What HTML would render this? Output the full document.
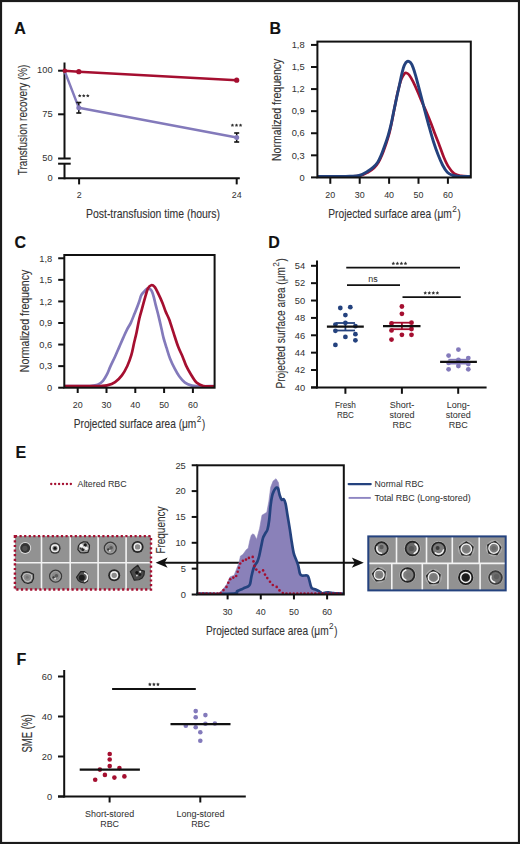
<!DOCTYPE html>
<html><head><meta charset="utf-8"><style>
html,body{margin:0;padding:0;background:#fff;width:520px;height:844px;overflow:hidden}
svg{display:block}
text{font-family:"Liberation Sans",sans-serif}
</style></head><body>
<svg width="520" height="844" viewBox="0 0 520 844">
<rect width="520" height="844" fill="#fff"/>
<rect x="1" y="1" width="518" height="842" fill="none" stroke="#1b1b1b" stroke-width="2.2"/>
<text x="14.20" y="34.40" font-size="16.0" text-anchor="start" fill="#111" font-weight="bold"  stroke="#111" stroke-width="0.15">A</text>
<text x="269.60" y="34.30" font-size="16.0" text-anchor="start" fill="#111" font-weight="bold"  stroke="#111" stroke-width="0.15">B</text>
<text x="14.60" y="248.00" font-size="16.0" text-anchor="start" fill="#111" font-weight="bold"  stroke="#111" stroke-width="0.15">C</text>
<text x="268.20" y="247.80" font-size="16.0" text-anchor="start" fill="#111" font-weight="bold"  stroke="#111" stroke-width="0.15">D</text>
<text x="15.60" y="457.90" font-size="16.0" text-anchor="start" fill="#111" font-weight="bold"  stroke="#111" stroke-width="0.15">E</text>
<text x="16.40" y="665.00" font-size="16.0" text-anchor="start" fill="#111" font-weight="bold"  stroke="#111" stroke-width="0.15">F</text>
<line x1="64.50" y1="62.50" x2="64.50" y2="158.50" stroke="#111111" stroke-width="2" />
<line x1="64.50" y1="163.70" x2="64.50" y2="179.30" stroke="#111111" stroke-width="2" />
<line x1="58.10" y1="158.50" x2="70.70" y2="158.50" stroke="#111111" stroke-width="2" />
<line x1="58.10" y1="163.70" x2="70.70" y2="163.70" stroke="#111111" stroke-width="2" />
<line x1="58.10" y1="70.70" x2="64.50" y2="70.70" stroke="#111111" stroke-width="2" />
<line x1="58.10" y1="114.30" x2="64.50" y2="114.30" stroke="#111111" stroke-width="2" />
<line x1="58.10" y1="178.30" x2="239.80" y2="178.30" stroke="#111111" stroke-width="2" />
<line x1="79.10" y1="178.30" x2="79.10" y2="184.40" stroke="#111111" stroke-width="2" />
<line x1="236.70" y1="178.30" x2="236.70" y2="184.40" stroke="#111111" stroke-width="2" />
<text x="52.60" y="73.40" font-size="9.3" text-anchor="end" fill="#333333" font-weight="normal"  stroke="#333333" stroke-width="0.04">100</text>
<text x="52.60" y="117.10" font-size="9.3" text-anchor="end" fill="#333333" font-weight="normal"  stroke="#333333" stroke-width="0.04">75</text>
<text x="52.60" y="161.40" font-size="9.3" text-anchor="end" fill="#333333" font-weight="normal"  stroke="#333333" stroke-width="0.04">50</text>
<text x="52.60" y="181.00" font-size="9.3" text-anchor="end" fill="#333333" font-weight="normal"  stroke="#333333" stroke-width="0.04">0</text>
<text x="79.10" y="198.30" font-size="8.9" text-anchor="middle" fill="#333333" font-weight="normal"  stroke="#333333" stroke-width="0.04">2</text>
<text x="236.70" y="198.30" font-size="8.9" text-anchor="middle" fill="#333333" font-weight="normal"  stroke="#333333" stroke-width="0.04">24</text>
<text x="86.00" y="217.60" font-size="12.8" text-anchor="start" fill="#333333" font-weight="normal" textLength="134.00" lengthAdjust="spacingAndGlyphs"  stroke="#333333" stroke-width="0.12">Post-transfusion time (hours)</text>
<text x="27.20" y="175.20" font-size="12.8" text-anchor="start" fill="#333333" font-weight="normal" textLength="110.60" lengthAdjust="spacingAndGlyphs" transform="rotate(-90 27.20 175.20)"  stroke="#333333" stroke-width="0.12">Transfusion recovery (%)</text>
<path d="M64.50,70.80 L78.80,107.80 L236.70,137.50" fill="none" stroke="#837abb" stroke-width="2.4" stroke-linejoin="round" stroke-linecap="round" />
<line x1="78.80" y1="102.50" x2="78.80" y2="113.00" stroke="#111111" stroke-width="1.5" />
<line x1="76.30" y1="102.50" x2="81.30" y2="102.50" stroke="#111111" stroke-width="1.6" />
<line x1="76.30" y1="113.00" x2="81.30" y2="113.00" stroke="#111111" stroke-width="1.6" />
<line x1="236.70" y1="133.00" x2="236.70" y2="142.00" stroke="#111111" stroke-width="1.5" />
<line x1="234.20" y1="133.00" x2="239.20" y2="133.00" stroke="#111111" stroke-width="1.6" />
<line x1="234.20" y1="142.00" x2="239.20" y2="142.00" stroke="#111111" stroke-width="1.6" />
<circle cx="78.80" cy="107.80" r="2.5" fill="#837abb"/>
<circle cx="236.70" cy="137.50" r="2.5" fill="#837abb"/>
<path d="M64.50,70.80 L78.80,71.70 L236.70,80.20" fill="none" stroke="#a50f30" stroke-width="2.6" stroke-linejoin="round" stroke-linecap="round" />
<circle cx="64.80" cy="70.80" r="2.3" fill="#a50f30"/>
<circle cx="78.80" cy="71.70" r="2.6" fill="#a50f30"/>
<circle cx="236.70" cy="80.20" r="2.6" fill="#a50f30"/>
<polygon points="79.70,93.90 80.29,94.99 81.51,95.21 80.65,96.11 80.82,97.34 79.70,96.80 78.58,97.34 78.75,96.11 77.89,95.21 79.11,94.99" fill="#333333"/>
<polygon points="83.75,93.90 84.34,94.99 85.56,95.21 84.70,96.11 84.87,97.34 83.75,96.80 82.63,97.34 82.80,96.11 81.94,95.21 83.16,94.99" fill="#333333"/>
<polygon points="87.80,93.90 88.39,94.99 89.61,95.21 88.75,96.11 88.92,97.34 87.80,96.80 86.68,97.34 86.85,96.11 85.99,95.21 87.21,94.99" fill="#333333"/>
<polygon points="232.45,123.40 233.04,124.49 234.26,124.71 233.40,125.61 233.57,126.84 232.45,126.30 231.33,126.84 231.50,125.61 230.64,124.71 231.86,124.49" fill="#333333"/>
<polygon points="236.50,123.40 237.09,124.49 238.31,124.71 237.45,125.61 237.62,126.84 236.50,126.30 235.38,126.84 235.55,125.61 234.69,124.71 235.91,124.49" fill="#333333"/>
<polygon points="240.55,123.40 241.14,124.49 242.36,124.71 241.50,125.61 241.67,126.84 240.55,126.30 239.43,126.84 239.60,125.61 238.74,124.71 239.96,124.49" fill="#333333"/>
<line x1="311.00" y1="177.40" x2="317.40" y2="177.40" stroke="#111111" stroke-width="2" />
<text x="304.60" y="180.65" font-size="9.3" text-anchor="end" fill="#333333" font-weight="normal"  stroke="#333333" stroke-width="0.04">0</text>
<line x1="311.00" y1="155.32" x2="317.40" y2="155.32" stroke="#111111" stroke-width="2" />
<text x="304.60" y="158.57" font-size="9.3" text-anchor="end" fill="#333333" font-weight="normal"  stroke="#333333" stroke-width="0.04">0,3</text>
<line x1="311.00" y1="133.24" x2="317.40" y2="133.24" stroke="#111111" stroke-width="2" />
<text x="304.60" y="136.49" font-size="9.3" text-anchor="end" fill="#333333" font-weight="normal"  stroke="#333333" stroke-width="0.04">0,6</text>
<line x1="311.00" y1="111.16" x2="317.40" y2="111.16" stroke="#111111" stroke-width="2" />
<text x="304.60" y="114.41" font-size="9.3" text-anchor="end" fill="#333333" font-weight="normal"  stroke="#333333" stroke-width="0.04">0,9</text>
<line x1="311.00" y1="89.08" x2="317.40" y2="89.08" stroke="#111111" stroke-width="2" />
<text x="304.60" y="92.33" font-size="9.3" text-anchor="end" fill="#333333" font-weight="normal"  stroke="#333333" stroke-width="0.04">1,2</text>
<line x1="311.00" y1="67.00" x2="317.40" y2="67.00" stroke="#111111" stroke-width="2" />
<text x="304.60" y="70.25" font-size="9.3" text-anchor="end" fill="#333333" font-weight="normal"  stroke="#333333" stroke-width="0.04">1,5</text>
<line x1="311.00" y1="44.92" x2="317.40" y2="44.92" stroke="#111111" stroke-width="2" />
<text x="304.60" y="48.17" font-size="9.3" text-anchor="end" fill="#333333" font-weight="normal"  stroke="#333333" stroke-width="0.04">1,8</text>
<line x1="330.30" y1="177.50" x2="330.30" y2="183.80" stroke="#111111" stroke-width="2" />
<text x="330.30" y="198.30" font-size="8.9" text-anchor="middle" fill="#333333" font-weight="normal"  stroke="#333333" stroke-width="0.04">20</text>
<line x1="359.70" y1="177.50" x2="359.70" y2="183.80" stroke="#111111" stroke-width="2" />
<text x="359.70" y="198.30" font-size="8.9" text-anchor="middle" fill="#333333" font-weight="normal"  stroke="#333333" stroke-width="0.04">30</text>
<line x1="389.10" y1="177.50" x2="389.10" y2="183.80" stroke="#111111" stroke-width="2" />
<text x="389.10" y="198.30" font-size="8.9" text-anchor="middle" fill="#333333" font-weight="normal"  stroke="#333333" stroke-width="0.04">40</text>
<line x1="418.50" y1="177.50" x2="418.50" y2="183.80" stroke="#111111" stroke-width="2" />
<text x="418.50" y="198.30" font-size="8.9" text-anchor="middle" fill="#333333" font-weight="normal"  stroke="#333333" stroke-width="0.04">50</text>
<line x1="447.90" y1="177.50" x2="447.90" y2="183.80" stroke="#111111" stroke-width="2" />
<text x="447.90" y="198.30" font-size="8.9" text-anchor="middle" fill="#333333" font-weight="normal"  stroke="#333333" stroke-width="0.04">60</text>
<clipPath id="cb"><rect x="317.4" y="41.6" width="153.40000000000003" height="135.9"/></clipPath>
<path d="M317.40,176.40 C321.17,176.40 334.57,176.42 340.00,176.40 C345.43,176.38 346.67,176.40 350.00,176.30 C353.33,176.20 357.00,176.48 360.00,175.80 C363.00,175.12 365.67,173.50 368.00,172.20 C370.33,170.90 372.25,169.67 374.00,168.00 C375.75,166.33 377.17,164.37 378.50,162.20 C379.83,160.03 380.83,157.78 382.00,155.00 C383.17,152.22 384.33,148.92 385.50,145.50 C386.67,142.08 387.92,138.58 389.00,134.50 C390.08,130.42 391.03,125.67 392.00,121.00 C392.97,116.33 393.85,111.28 394.80,106.50 C395.75,101.72 396.63,96.78 397.70,92.30 C398.77,87.82 400.07,82.72 401.20,79.60 C402.33,76.48 403.62,74.70 404.50,73.60 C405.38,72.50 405.72,72.77 406.50,73.00 C407.28,73.23 408.10,73.55 409.20,75.00 C410.30,76.45 411.65,78.82 413.10,81.70 C414.55,84.58 416.37,88.78 417.90,92.30 C419.43,95.82 420.87,99.48 422.30,102.80 C423.73,106.12 425.03,108.77 426.50,112.20 C427.97,115.63 429.65,119.67 431.10,123.40 C432.55,127.13 433.75,130.77 435.20,134.60 C436.65,138.43 438.37,142.63 439.80,146.40 C441.23,150.17 442.37,153.83 443.80,157.20 C445.23,160.57 446.67,163.87 448.40,166.60 C450.13,169.33 452.08,172.05 454.20,173.60 C456.32,175.15 458.60,175.43 461.10,175.90 C463.60,176.37 467.85,176.32 469.20,176.40" fill="none" stroke="#a50f30" stroke-width="2.7" stroke-linejoin="round" stroke-linecap="round" clip-path="url(#cb)"/>
<path d="M317.40,176.40 C321.17,176.40 334.57,176.43 340.00,176.40 C345.43,176.37 346.80,176.35 350.00,176.20 C353.20,176.05 356.32,176.27 359.20,175.50 C362.08,174.73 364.98,172.95 367.30,171.60 C369.62,170.25 371.37,168.97 373.10,167.40 C374.83,165.83 376.37,164.20 377.70,162.20 C379.03,160.20 379.95,158.08 381.10,155.40 C382.25,152.72 383.43,149.40 384.60,146.10 C385.77,142.80 387.03,139.18 388.10,135.60 C389.17,132.02 390.10,128.45 391.00,124.60 C391.90,120.75 392.55,117.02 393.50,112.50 C394.45,107.98 395.68,102.22 396.70,97.50 C397.72,92.78 398.72,88.25 399.60,84.20 C400.48,80.15 401.20,76.37 402.00,73.20 C402.80,70.03 403.52,67.17 404.40,65.20 C405.28,63.23 406.28,61.83 407.30,61.40 C408.32,60.97 409.53,61.57 410.50,62.60 C411.47,63.63 412.27,65.50 413.10,67.60 C413.93,69.70 414.65,72.27 415.50,75.20 C416.35,78.13 417.25,81.65 418.20,85.20 C419.15,88.75 420.13,92.40 421.20,96.50 C422.27,100.60 423.33,104.97 424.60,109.80 C425.87,114.63 427.32,120.17 428.80,125.50 C430.28,130.83 431.95,136.92 433.50,141.80 C435.05,146.68 436.57,150.90 438.10,154.80 C439.63,158.70 441.17,162.30 442.70,165.20 C444.23,168.10 445.57,170.48 447.30,172.20 C449.03,173.92 450.80,174.80 453.10,175.50 C455.40,176.20 458.28,176.25 461.10,176.40 C463.92,176.55 468.52,176.40 470.00,176.40" fill="none" stroke="#24427e" stroke-width="2.9" stroke-linejoin="round" stroke-linecap="round" clip-path="url(#cb)"/>
<rect x="317.4" y="41.6" width="153.40000000000003" height="135.9" fill="none" stroke="#111111" stroke-width="2"/>
<text x="281.10" y="161.00" font-size="12.8" text-anchor="start" fill="#333333" font-weight="normal" textLength="102.30" lengthAdjust="spacingAndGlyphs" transform="rotate(-90 281.10 161.00)"  stroke="#333333" stroke-width="0.12">Normalized frequency</text>
<text x="328.30" y="218.00" font-size="13.3" text-anchor="start" fill="#333333" font-weight="normal" textLength="123.50" lengthAdjust="spacingAndGlyphs"  stroke="#333333" stroke-width="0.12">Projected surface area (μm</text>
<text x="452.30" y="211.80" font-size="8.2" text-anchor="start" fill="#333333" font-weight="normal"  stroke="#333333" stroke-width="0.04">2</text>
<text x="457.40" y="218.00" font-size="13.3" text-anchor="start" fill="#333333" font-weight="normal" textLength="3.20" lengthAdjust="spacingAndGlyphs"  stroke="#333333" stroke-width="0.12">)</text>
<line x1="58.20" y1="387.70" x2="64.30" y2="387.70" stroke="#111111" stroke-width="2" />
<text x="52.20" y="390.95" font-size="9.3" text-anchor="end" fill="#333333" font-weight="normal"  stroke="#333333" stroke-width="0.04">0</text>
<line x1="58.20" y1="366.13" x2="64.30" y2="366.13" stroke="#111111" stroke-width="2" />
<text x="52.20" y="369.38" font-size="9.3" text-anchor="end" fill="#333333" font-weight="normal"  stroke="#333333" stroke-width="0.04">0,3</text>
<line x1="58.20" y1="344.56" x2="64.30" y2="344.56" stroke="#111111" stroke-width="2" />
<text x="52.20" y="347.81" font-size="9.3" text-anchor="end" fill="#333333" font-weight="normal"  stroke="#333333" stroke-width="0.04">0,6</text>
<line x1="58.20" y1="322.99" x2="64.30" y2="322.99" stroke="#111111" stroke-width="2" />
<text x="52.20" y="326.24" font-size="9.3" text-anchor="end" fill="#333333" font-weight="normal"  stroke="#333333" stroke-width="0.04">0,9</text>
<line x1="58.20" y1="301.42" x2="64.30" y2="301.42" stroke="#111111" stroke-width="2" />
<text x="52.20" y="304.67" font-size="9.3" text-anchor="end" fill="#333333" font-weight="normal"  stroke="#333333" stroke-width="0.04">1,2</text>
<line x1="58.20" y1="279.85" x2="64.30" y2="279.85" stroke="#111111" stroke-width="2" />
<text x="52.20" y="283.10" font-size="9.3" text-anchor="end" fill="#333333" font-weight="normal"  stroke="#333333" stroke-width="0.04">1,5</text>
<line x1="58.20" y1="258.28" x2="64.30" y2="258.28" stroke="#111111" stroke-width="2" />
<text x="52.20" y="261.53" font-size="9.3" text-anchor="end" fill="#333333" font-weight="normal"  stroke="#333333" stroke-width="0.04">1,8</text>
<line x1="77.70" y1="387.70" x2="77.70" y2="393.00" stroke="#111111" stroke-width="2" />
<text x="77.70" y="408.40" font-size="8.9" text-anchor="middle" fill="#333333" font-weight="normal"  stroke="#333333" stroke-width="0.04">20</text>
<line x1="106.50" y1="387.70" x2="106.50" y2="393.00" stroke="#111111" stroke-width="2" />
<text x="106.50" y="408.40" font-size="8.9" text-anchor="middle" fill="#333333" font-weight="normal"  stroke="#333333" stroke-width="0.04">30</text>
<line x1="135.30" y1="387.70" x2="135.30" y2="393.00" stroke="#111111" stroke-width="2" />
<text x="135.30" y="408.40" font-size="8.9" text-anchor="middle" fill="#333333" font-weight="normal"  stroke="#333333" stroke-width="0.04">40</text>
<line x1="164.10" y1="387.70" x2="164.10" y2="393.00" stroke="#111111" stroke-width="2" />
<text x="164.10" y="408.40" font-size="8.9" text-anchor="middle" fill="#333333" font-weight="normal"  stroke="#333333" stroke-width="0.04">50</text>
<line x1="192.90" y1="387.70" x2="192.90" y2="393.00" stroke="#111111" stroke-width="2" />
<text x="192.90" y="408.40" font-size="8.9" text-anchor="middle" fill="#333333" font-weight="normal"  stroke="#333333" stroke-width="0.04">60</text>
<clipPath id="cc"><rect x="64.3" y="255.0" width="150.3" height="132.7"/></clipPath>
<path d="M64.30,386.20 C67.75,386.20 80.72,386.23 85.00,386.20 C89.28,386.17 87.90,386.23 90.00,386.00 C92.10,385.77 95.43,385.67 97.60,384.80 C99.77,383.93 101.42,382.57 103.00,380.80 C104.58,379.03 105.87,376.60 107.10,374.20 C108.33,371.80 109.07,369.35 110.40,366.40 C111.73,363.45 113.63,359.72 115.10,356.50 C116.57,353.28 117.85,350.20 119.20,347.10 C120.55,344.00 121.90,340.82 123.20,337.90 C124.50,334.98 125.73,332.12 127.00,329.60 C128.27,327.08 129.53,325.48 130.80,322.80 C132.07,320.12 133.50,316.22 134.60,313.50 C135.70,310.78 136.60,308.58 137.40,306.50 C138.20,304.42 138.77,302.85 139.40,301.00 C140.03,299.15 140.40,296.97 141.20,295.40 C142.00,293.83 143.22,292.70 144.20,291.60 C145.18,290.50 146.20,289.28 147.10,288.80 C148.00,288.32 148.82,288.30 149.60,288.70 C150.38,289.10 151.10,289.80 151.80,291.20 C152.50,292.60 153.13,294.73 153.80,297.10 C154.47,299.47 154.98,302.15 155.80,305.40 C156.62,308.65 157.75,312.70 158.70,316.60 C159.65,320.50 160.72,325.33 161.50,328.80 C162.28,332.27 162.57,334.25 163.40,337.40 C164.23,340.55 165.40,344.20 166.50,347.70 C167.60,351.20 168.65,354.95 170.00,358.40 C171.35,361.85 173.07,365.43 174.60,368.40 C176.13,371.37 177.47,373.83 179.20,376.20 C180.93,378.57 182.88,381.03 185.00,382.60 C187.12,384.17 189.78,385.00 191.90,385.60 C194.02,386.20 194.02,386.10 197.70,386.20 C201.38,386.30 211.28,386.20 214.00,386.20" fill="none" stroke="#837abb" stroke-width="2.7" stroke-linejoin="round" stroke-linecap="round" clip-path="url(#cc)"/>
<path d="M64.30,386.20 C69.42,386.20 88.97,386.23 95.00,386.20 C101.03,386.17 98.48,386.13 100.50,386.00 C102.52,385.87 104.67,386.05 107.10,385.40 C109.53,384.75 112.63,383.77 115.10,382.10 C117.57,380.43 119.87,378.08 121.90,375.40 C123.93,372.72 125.73,369.37 127.30,366.00 C128.87,362.63 130.18,358.98 131.30,355.20 C132.42,351.42 133.13,347.05 134.00,343.30 C134.87,339.55 135.60,336.87 136.50,332.70 C137.40,328.53 138.43,322.47 139.40,318.30 C140.37,314.13 141.33,311.23 142.30,307.70 C143.27,304.17 144.23,300.35 145.20,297.10 C146.17,293.85 147.10,290.18 148.10,288.20 C149.10,286.22 150.12,285.43 151.20,285.20 C152.28,284.97 153.40,285.37 154.60,286.80 C155.80,288.23 157.08,291.12 158.40,293.80 C159.72,296.48 161.30,299.95 162.50,302.90 C163.70,305.85 164.48,308.73 165.60,311.50 C166.72,314.27 167.88,315.97 169.20,319.50 C170.52,323.03 172.02,328.20 173.50,332.70 C174.98,337.20 176.57,342.47 178.10,346.50 C179.63,350.53 181.37,353.72 182.70,356.90 C184.03,360.08 184.75,362.72 186.10,365.60 C187.45,368.48 189.07,371.37 190.80,374.20 C192.53,377.03 194.40,380.63 196.50,382.60 C198.60,384.57 200.70,385.38 203.40,386.00 C206.10,386.62 210.83,386.25 212.70,386.30 C214.57,386.35 214.28,386.30 214.60,386.30" fill="none" stroke="#a50f30" stroke-width="2.7" stroke-linejoin="round" stroke-linecap="round" clip-path="url(#cc)"/>
<rect x="64.3" y="255.0" width="150.3" height="132.7" fill="none" stroke="#111111" stroke-width="2"/>
<text x="29.50" y="372.20" font-size="12.8" text-anchor="start" fill="#333333" font-weight="normal" textLength="102.40" lengthAdjust="spacingAndGlyphs" transform="rotate(-90 29.50 372.20)"  stroke="#333333" stroke-width="0.12">Normalized frequency</text>
<text x="73.80" y="428.00" font-size="13.3" text-anchor="start" fill="#333333" font-weight="normal" textLength="122.50" lengthAdjust="spacingAndGlyphs"  stroke="#333333" stroke-width="0.12">Projected surface area (μm</text>
<text x="196.80" y="421.80" font-size="8.2" text-anchor="start" fill="#333333" font-weight="normal"  stroke="#333333" stroke-width="0.04">2</text>
<text x="201.90" y="428.00" font-size="13.3" text-anchor="start" fill="#333333" font-weight="normal" textLength="3.20" lengthAdjust="spacingAndGlyphs"  stroke="#333333" stroke-width="0.12">)</text>
<line x1="317.00" y1="260.50" x2="317.00" y2="388.40" stroke="#111111" stroke-width="2" />
<line x1="311.00" y1="387.40" x2="486.60" y2="387.40" stroke="#111111" stroke-width="2" />
<line x1="311.00" y1="387.40" x2="317.00" y2="387.40" stroke="#111111" stroke-width="2" />
<text x="305.20" y="390.65" font-size="9.3" text-anchor="end" fill="#333333" font-weight="normal"  stroke="#333333" stroke-width="0.04">40</text>
<line x1="311.00" y1="370.03" x2="317.00" y2="370.03" stroke="#111111" stroke-width="2" />
<text x="305.20" y="373.28" font-size="9.3" text-anchor="end" fill="#333333" font-weight="normal"  stroke="#333333" stroke-width="0.04">42</text>
<line x1="311.00" y1="352.66" x2="317.00" y2="352.66" stroke="#111111" stroke-width="2" />
<text x="305.20" y="355.91" font-size="9.3" text-anchor="end" fill="#333333" font-weight="normal"  stroke="#333333" stroke-width="0.04">44</text>
<line x1="311.00" y1="335.28" x2="317.00" y2="335.28" stroke="#111111" stroke-width="2" />
<text x="305.20" y="338.53" font-size="9.3" text-anchor="end" fill="#333333" font-weight="normal"  stroke="#333333" stroke-width="0.04">46</text>
<line x1="311.00" y1="317.91" x2="317.00" y2="317.91" stroke="#111111" stroke-width="2" />
<text x="305.20" y="321.16" font-size="9.3" text-anchor="end" fill="#333333" font-weight="normal"  stroke="#333333" stroke-width="0.04">48</text>
<line x1="311.00" y1="300.54" x2="317.00" y2="300.54" stroke="#111111" stroke-width="2" />
<text x="305.20" y="303.79" font-size="9.3" text-anchor="end" fill="#333333" font-weight="normal"  stroke="#333333" stroke-width="0.04">50</text>
<line x1="311.00" y1="283.17" x2="317.00" y2="283.17" stroke="#111111" stroke-width="2" />
<text x="305.20" y="286.42" font-size="9.3" text-anchor="end" fill="#333333" font-weight="normal"  stroke="#333333" stroke-width="0.04">52</text>
<line x1="311.00" y1="265.80" x2="317.00" y2="265.80" stroke="#111111" stroke-width="2" />
<text x="305.20" y="269.05" font-size="9.3" text-anchor="end" fill="#333333" font-weight="normal"  stroke="#333333" stroke-width="0.04">54</text>
<line x1="345.40" y1="387.40" x2="345.40" y2="393.80" stroke="#111111" stroke-width="2" />
<line x1="401.90" y1="387.40" x2="401.90" y2="393.80" stroke="#111111" stroke-width="2" />
<line x1="458.20" y1="387.40" x2="458.20" y2="393.80" stroke="#111111" stroke-width="2" />
<text x="345.40" y="407.80" font-size="9.0" text-anchor="middle" fill="#333333" font-weight="normal" textLength="21.00" lengthAdjust="spacingAndGlyphs"  stroke="#333333" stroke-width="0.04">Fresh</text>
<text x="345.40" y="417.90" font-size="9.0" text-anchor="middle" fill="#333333" font-weight="normal" textLength="17.00" lengthAdjust="spacingAndGlyphs"  stroke="#333333" stroke-width="0.04">RBC</text>
<text x="401.90" y="407.60" font-size="9.0" text-anchor="middle" fill="#333333" font-weight="normal"  stroke="#333333" stroke-width="0.04">Short-</text>
<text x="401.90" y="417.95" font-size="9.0" text-anchor="middle" fill="#333333" font-weight="normal"  stroke="#333333" stroke-width="0.04">stored</text>
<text x="401.90" y="428.30" font-size="9.0" text-anchor="middle" fill="#333333" font-weight="normal"  stroke="#333333" stroke-width="0.04">RBC</text>
<text x="458.20" y="407.60" font-size="9.0" text-anchor="middle" fill="#333333" font-weight="normal"  stroke="#333333" stroke-width="0.04">Long-</text>
<text x="458.20" y="417.95" font-size="9.0" text-anchor="middle" fill="#333333" font-weight="normal"  stroke="#333333" stroke-width="0.04">stored</text>
<text x="458.20" y="428.30" font-size="9.0" text-anchor="middle" fill="#333333" font-weight="normal"  stroke="#333333" stroke-width="0.04">RBC</text>
<g transform="translate(284.80,388.50) rotate(-90)">
<text x="0.00" y="0.00" font-size="13.3" text-anchor="start" fill="#333333" font-weight="normal" textLength="121.30" lengthAdjust="spacingAndGlyphs"  stroke="#333333" stroke-width="0.12">Projected surface area (μm</text>
<text x="121.80" y="-6.20" font-size="8.2" text-anchor="start" fill="#333333" font-weight="normal"  stroke="#333333" stroke-width="0.04">2</text>
<text x="126.90" y="0.00" font-size="13.3" text-anchor="start" fill="#333333" font-weight="normal" textLength="3.20" lengthAdjust="spacingAndGlyphs"  stroke="#333333" stroke-width="0.12">)</text>
</g>
<line x1="346.25" y1="267.60" x2="460.00" y2="267.60" stroke="#111111" stroke-width="1.6" />
<line x1="347.00" y1="285.10" x2="400.00" y2="285.10" stroke="#111111" stroke-width="1.6" />
<line x1="402.50" y1="297.10" x2="460.75" y2="297.10" stroke="#111111" stroke-width="1.6" />
<polygon points="393.32,261.60 393.91,262.69 395.13,262.91 394.28,263.81 394.44,265.04 393.32,264.50 392.21,265.04 392.37,263.81 391.52,262.91 392.74,262.69" fill="#333333"/>
<polygon points="397.38,261.60 397.96,262.69 399.18,262.91 398.33,263.81 398.49,265.04 397.38,264.50 396.26,265.04 396.42,263.81 395.57,262.91 396.79,262.69" fill="#333333"/>
<polygon points="401.43,261.60 402.01,262.69 403.23,262.91 402.38,263.81 402.54,265.04 401.43,264.50 400.31,265.04 400.47,263.81 399.62,262.91 400.84,262.69" fill="#333333"/>
<polygon points="405.47,261.60 406.06,262.69 407.28,262.91 406.43,263.81 406.59,265.04 405.47,264.50 404.36,265.04 404.52,263.81 403.67,262.91 404.89,262.69" fill="#333333"/>
<text x="373.00" y="281.50" font-size="8.9" text-anchor="middle" fill="#333333" font-weight="normal"  stroke="#333333" stroke-width="0.04">ns</text>
<polygon points="425.23,291.10 425.81,292.19 427.03,292.41 426.18,293.31 426.34,294.54 425.23,294.00 424.11,294.54 424.27,293.31 423.42,292.41 424.64,292.19" fill="#333333"/>
<polygon points="429.28,291.10 429.86,292.19 431.08,292.41 430.23,293.31 430.39,294.54 429.28,294.00 428.16,294.54 428.32,293.31 427.47,292.41 428.69,292.19" fill="#333333"/>
<polygon points="433.33,291.10 433.91,292.19 435.13,292.41 434.28,293.31 434.44,294.54 433.33,294.00 432.21,294.54 432.37,293.31 431.52,292.41 432.74,292.19" fill="#333333"/>
<polygon points="437.38,291.10 437.96,292.19 439.18,292.41 438.33,293.31 438.49,294.54 437.38,294.00 436.26,294.54 436.42,293.31 435.57,292.41 436.79,292.19" fill="#333333"/>
<line x1="335.80" y1="323.00" x2="355.00" y2="323.00" stroke="#24427e" stroke-width="1.8" />
<line x1="335.80" y1="330.50" x2="355.00" y2="330.50" stroke="#24427e" stroke-width="1.8" />
<line x1="345.40" y1="323.00" x2="345.40" y2="330.50" stroke="#24427e" stroke-width="1.8" />
<circle cx="340.30" cy="308.00" r="2.4" fill="#24427e"/>
<circle cx="350.30" cy="307.20" r="2.4" fill="#24427e"/>
<circle cx="345.40" cy="315.10" r="2.4" fill="#24427e"/>
<circle cx="345.40" cy="322.80" r="2.4" fill="#24427e"/>
<circle cx="335.40" cy="324.60" r="2.4" fill="#24427e"/>
<circle cx="355.40" cy="326.20" r="2.4" fill="#24427e"/>
<circle cx="335.40" cy="330.80" r="2.4" fill="#24427e"/>
<circle cx="355.40" cy="334.20" r="2.4" fill="#24427e"/>
<circle cx="345.40" cy="336.90" r="2.4" fill="#24427e"/>
<circle cx="355.40" cy="340.30" r="2.4" fill="#24427e"/>
<circle cx="335.40" cy="344.90" r="2.4" fill="#24427e"/>
<line x1="326.90" y1="326.60" x2="363.80" y2="326.60" stroke="#111111" stroke-width="2.2" />
<line x1="391.90" y1="322.70" x2="411.90" y2="322.70" stroke="#a50f30" stroke-width="1.8" />
<line x1="391.90" y1="329.20" x2="411.90" y2="329.20" stroke="#a50f30" stroke-width="1.8" />
<line x1="401.90" y1="322.70" x2="401.90" y2="329.20" stroke="#a50f30" stroke-width="1.8" />
<circle cx="401.90" cy="306.50" r="2.4" fill="#a50f30"/>
<circle cx="401.90" cy="313.80" r="2.4" fill="#a50f30"/>
<circle cx="411.50" cy="322.70" r="2.4" fill="#a50f30"/>
<circle cx="391.50" cy="323.50" r="2.4" fill="#a50f30"/>
<circle cx="411.50" cy="329.00" r="2.4" fill="#a50f30"/>
<circle cx="391.50" cy="330.40" r="2.4" fill="#a50f30"/>
<circle cx="401.90" cy="334.80" r="2.4" fill="#a50f30"/>
<circle cx="411.50" cy="334.80" r="2.4" fill="#a50f30"/>
<circle cx="391.50" cy="339.60" r="2.4" fill="#a50f30"/>
<line x1="383.00" y1="326.20" x2="420.50" y2="326.20" stroke="#111111" stroke-width="2.2" />
<line x1="448.40" y1="359.70" x2="468.40" y2="359.70" stroke="#837abb" stroke-width="1.8" />
<line x1="448.40" y1="363.60" x2="468.40" y2="363.60" stroke="#837abb" stroke-width="1.8" />
<line x1="458.40" y1="359.70" x2="458.40" y2="363.60" stroke="#837abb" stroke-width="1.8" />
<circle cx="458.40" cy="349.60" r="2.4" fill="#837abb"/>
<circle cx="448.60" cy="355.60" r="2.4" fill="#837abb"/>
<circle cx="468.30" cy="358.10" r="2.4" fill="#837abb"/>
<circle cx="458.40" cy="360.00" r="2.4" fill="#837abb"/>
<circle cx="448.60" cy="362.90" r="2.4" fill="#837abb"/>
<circle cx="468.30" cy="364.00" r="2.4" fill="#837abb"/>
<circle cx="458.40" cy="366.00" r="2.4" fill="#837abb"/>
<circle cx="448.60" cy="369.30" r="2.4" fill="#837abb"/>
<circle cx="468.30" cy="369.30" r="2.4" fill="#837abb"/>
<line x1="440.10" y1="361.80" x2="476.90" y2="361.80" stroke="#111111" stroke-width="2.2" />
<line x1="191.70" y1="594.50" x2="197.30" y2="594.50" stroke="#111111" stroke-width="2" />
<text x="185.80" y="597.75" font-size="9.3" text-anchor="end" fill="#333333" font-weight="normal"  stroke="#333333" stroke-width="0.04">0</text>
<line x1="191.70" y1="568.65" x2="197.30" y2="568.65" stroke="#111111" stroke-width="2" />
<text x="185.80" y="571.90" font-size="9.3" text-anchor="end" fill="#333333" font-weight="normal"  stroke="#333333" stroke-width="0.04">5</text>
<line x1="191.70" y1="542.80" x2="197.30" y2="542.80" stroke="#111111" stroke-width="2" />
<text x="185.80" y="546.05" font-size="9.3" text-anchor="end" fill="#333333" font-weight="normal"  stroke="#333333" stroke-width="0.04">10</text>
<line x1="191.70" y1="516.95" x2="197.30" y2="516.95" stroke="#111111" stroke-width="2" />
<text x="185.80" y="520.20" font-size="9.3" text-anchor="end" fill="#333333" font-weight="normal"  stroke="#333333" stroke-width="0.04">15</text>
<line x1="191.70" y1="491.10" x2="197.30" y2="491.10" stroke="#111111" stroke-width="2" />
<text x="185.80" y="494.35" font-size="9.3" text-anchor="end" fill="#333333" font-weight="normal"  stroke="#333333" stroke-width="0.04">20</text>
<line x1="191.70" y1="465.25" x2="197.30" y2="465.25" stroke="#111111" stroke-width="2" />
<text x="185.80" y="468.50" font-size="9.3" text-anchor="end" fill="#333333" font-weight="normal"  stroke="#333333" stroke-width="0.04">25</text>
<line x1="227.60" y1="594.50" x2="227.60" y2="599.40" stroke="#111111" stroke-width="2" />
<text x="227.60" y="614.80" font-size="8.9" text-anchor="middle" fill="#333333" font-weight="normal"  stroke="#333333" stroke-width="0.04">30</text>
<line x1="260.77" y1="594.50" x2="260.77" y2="599.40" stroke="#111111" stroke-width="2" />
<text x="260.77" y="614.80" font-size="8.9" text-anchor="middle" fill="#333333" font-weight="normal"  stroke="#333333" stroke-width="0.04">40</text>
<line x1="293.94" y1="594.50" x2="293.94" y2="599.40" stroke="#111111" stroke-width="2" />
<text x="293.94" y="614.80" font-size="8.9" text-anchor="middle" fill="#333333" font-weight="normal"  stroke="#333333" stroke-width="0.04">50</text>
<line x1="327.11" y1="594.50" x2="327.11" y2="599.40" stroke="#111111" stroke-width="2" />
<text x="327.11" y="614.80" font-size="8.9" text-anchor="middle" fill="#333333" font-weight="normal"  stroke="#333333" stroke-width="0.04">60</text>
<line x1="163.00" y1="562.70" x2="356.00" y2="562.70" stroke="#111111" stroke-width="2" />
<path d="M155.6,562.7 L167.6,557.6 L164.6,562.7 L167.6,567.8 Z" fill="#111111"/>
<path d="M363.8,562.7 L351.8,557.6 L354.8,562.7 L351.8,567.8 Z" fill="#111111"/>
<path d="M197.30,594.50 L218.80,593.50 L222.70,589.60 L226.50,584.80 L229.90,577.10 L231.80,576.20 L234.20,575.20 L239.00,562.70 L240.50,556.00 L242.90,554.50 L246.30,549.70 L248.20,548.30 L249.80,540.50 L251.30,535.20 L252.60,534.00 L254.20,534.60 L256.60,539.40 L259.60,528.50 L262.00,515.20 L264.40,513.80 L266.80,512.30 L268.80,501.70 L270.70,487.30 L273.10,481.10 L276.00,478.70 L278.40,482.50 L279.20,488.30 L279.80,495.50 L281.70,499.80 L283.70,499.30 L285.60,503.70 L287.50,515.20 L289.90,529.60 L291.30,539.20 L293.70,553.10 L296.50,560.60 L298.30,565.80 L300.00,573.80 L302.30,575.60 L307.50,575.60 L309.20,579.60 L311.50,587.70 L315.60,589.40 L319.00,591.10 L321.90,593.40 L324.80,592.90 L328.30,592.30 L333.40,593.20 L338.00,593.40 L343.80,594.50 Z" fill="#8a81b9" stroke="#8a81b9" stroke-width="0.6" stroke-linejoin="round"/>
<path d="M197.30,593.70 C203.30,593.67 226.67,593.93 233.30,593.50 C239.93,593.07 235.82,591.75 237.10,591.10 C238.38,590.45 239.72,590.17 241.00,589.60 C242.28,589.03 243.60,588.25 244.80,587.70 C246.00,587.15 247.32,586.95 248.20,586.30 C249.08,585.65 249.55,585.48 250.10,583.80 C250.65,582.12 250.93,578.75 251.50,576.20 C252.07,573.65 252.85,570.43 253.50,568.50 C254.15,566.57 254.77,565.73 255.40,564.60 C256.03,563.47 256.67,563.13 257.30,561.70 C257.93,560.27 258.55,558.57 259.20,556.00 C259.85,553.43 260.55,549.35 261.20,546.30 C261.85,543.25 262.38,539.92 263.10,537.70 C263.82,535.48 264.77,534.37 265.50,533.00 C266.23,531.63 266.88,531.67 267.50,529.50 C268.12,527.33 268.67,524.15 269.20,520.00 C269.73,515.85 270.13,508.93 270.70,504.60 C271.27,500.27 271.80,496.72 272.60,494.00 C273.40,491.28 274.62,489.25 275.50,488.30 C276.38,487.35 277.18,487.10 277.90,488.30 C278.62,489.50 279.17,493.58 279.80,495.50 C280.43,497.42 281.05,499.17 281.70,499.80 C282.35,500.43 283.05,498.65 283.70,499.30 C284.35,499.95 284.97,501.05 285.60,503.70 C286.23,506.35 286.78,510.88 287.50,515.20 C288.22,519.52 289.27,525.60 289.90,529.60 C290.53,533.60 290.67,535.28 291.30,539.20 C291.93,543.12 292.83,549.53 293.70,553.10 C294.57,556.67 295.73,558.48 296.50,560.60 C297.27,562.72 297.72,563.60 298.30,565.80 C298.88,568.00 299.33,572.17 300.00,573.80 C300.67,575.43 301.05,575.30 302.30,575.60 C303.55,575.90 306.35,574.93 307.50,575.60 C308.65,576.27 308.53,577.58 309.20,579.60 C309.87,581.62 310.43,586.07 311.50,587.70 C312.57,589.33 314.35,588.83 315.60,589.40 C316.85,589.97 317.95,590.47 319.00,591.10 C320.05,591.73 320.93,592.92 321.90,593.20 C322.87,593.48 323.73,592.95 324.80,592.80 C325.87,592.65 326.87,592.25 328.30,592.30 C329.73,592.35 331.78,592.92 333.40,593.10 C335.02,593.28 336.40,593.32 338.00,593.40 C339.60,593.48 342.17,593.57 343.00,593.60" fill="none" stroke="#24427e" stroke-width="2.7" stroke-linejoin="round" stroke-linecap="round" />
<circle cx="220.60" cy="593.00" r="1.3" fill="#a50f30"/>
<circle cx="223.50" cy="590.10" r="1.3" fill="#a50f30"/>
<circle cx="226.50" cy="586.90" r="1.3" fill="#a50f30"/>
<circle cx="228.30" cy="582.70" r="1.3" fill="#a50f30"/>
<circle cx="230.20" cy="579.20" r="1.3" fill="#a50f30"/>
<circle cx="233.30" cy="577.60" r="1.3" fill="#a50f30"/>
<circle cx="236.20" cy="576.00" r="1.3" fill="#a50f30"/>
<circle cx="237.70" cy="571.80" r="1.3" fill="#a50f30"/>
<circle cx="239.00" cy="567.70" r="1.3" fill="#a50f30"/>
<circle cx="240.20" cy="563.50" r="1.3" fill="#a50f30"/>
<circle cx="242.90" cy="560.80" r="1.3" fill="#a50f30"/>
<circle cx="246.00" cy="559.60" r="1.3" fill="#a50f30"/>
<circle cx="248.90" cy="557.90" r="1.3" fill="#a50f30"/>
<circle cx="252.70" cy="556.90" r="1.3" fill="#a50f30"/>
<circle cx="253.50" cy="561.40" r="1.3" fill="#a50f30"/>
<circle cx="254.40" cy="565.90" r="1.3" fill="#a50f30"/>
<circle cx="256.30" cy="569.60" r="1.3" fill="#a50f30"/>
<circle cx="259.40" cy="572.10" r="1.3" fill="#a50f30"/>
<circle cx="263.10" cy="570.40" r="1.3" fill="#a50f30"/>
<circle cx="265.00" cy="574.60" r="1.3" fill="#a50f30"/>
<circle cx="267.30" cy="578.10" r="1.3" fill="#a50f30"/>
<circle cx="270.00" cy="581.80" r="1.3" fill="#a50f30"/>
<circle cx="272.80" cy="585.00" r="1.3" fill="#a50f30"/>
<circle cx="276.70" cy="586.90" r="1.3" fill="#a50f30"/>
<circle cx="279.50" cy="590.40" r="1.3" fill="#a50f30"/>
<circle cx="282.80" cy="593.10" r="1.3" fill="#a50f30"/>
<circle cx="199.50" cy="593.60" r="1.3" fill="#a50f30"/>
<circle cx="203.10" cy="593.60" r="1.3" fill="#a50f30"/>
<circle cx="206.70" cy="593.60" r="1.3" fill="#a50f30"/>
<circle cx="210.30" cy="593.60" r="1.3" fill="#a50f30"/>
<circle cx="213.90" cy="593.60" r="1.3" fill="#a50f30"/>
<circle cx="217.50" cy="593.60" r="1.3" fill="#a50f30"/>
<circle cx="286.50" cy="593.60" r="1.3" fill="#a50f30"/>
<circle cx="290.10" cy="593.60" r="1.3" fill="#a50f30"/>
<circle cx="293.70" cy="593.60" r="1.3" fill="#a50f30"/>
<circle cx="297.30" cy="593.60" r="1.3" fill="#a50f30"/>
<circle cx="300.90" cy="593.60" r="1.3" fill="#a50f30"/>
<circle cx="304.50" cy="593.60" r="1.3" fill="#a50f30"/>
<circle cx="308.10" cy="593.60" r="1.3" fill="#a50f30"/>
<circle cx="311.70" cy="593.60" r="1.3" fill="#a50f30"/>
<circle cx="315.30" cy="593.60" r="1.3" fill="#a50f30"/>
<circle cx="318.90" cy="593.60" r="1.3" fill="#a50f30"/>
<circle cx="322.50" cy="593.60" r="1.3" fill="#a50f30"/>
<circle cx="326.10" cy="593.60" r="1.3" fill="#a50f30"/>
<circle cx="329.70" cy="593.60" r="1.3" fill="#a50f30"/>
<circle cx="333.30" cy="593.60" r="1.3" fill="#a50f30"/>
<circle cx="336.90" cy="593.60" r="1.3" fill="#a50f30"/>
<circle cx="340.50" cy="593.60" r="1.3" fill="#a50f30"/>
<rect x="197.3" y="465.3" width="146.5" height="129.2" fill="none" stroke="#111111" stroke-width="2"/>
<text x="164.90" y="553.60" font-size="12.8" text-anchor="start" fill="#333333" font-weight="normal" textLength="47.00" lengthAdjust="spacingAndGlyphs" transform="rotate(-90 164.90 553.60)"  stroke="#333333" stroke-width="0.12">Frequency</text>
<text x="206.00" y="635.40" font-size="13.3" text-anchor="start" fill="#333333" font-weight="normal" textLength="122.60" lengthAdjust="spacingAndGlyphs"  stroke="#333333" stroke-width="0.12">Projected surface area (μm</text>
<text x="329.10" y="629.20" font-size="8.2" text-anchor="start" fill="#333333" font-weight="normal"  stroke="#333333" stroke-width="0.04">2</text>
<text x="334.20" y="635.40" font-size="13.3" text-anchor="start" fill="#333333" font-weight="normal" textLength="3.20" lengthAdjust="spacingAndGlyphs"  stroke="#333333" stroke-width="0.12">)</text>
<path d="M51.20,484.00 L71.00,484.00" fill="none" stroke="#a50f30" stroke-width="2.3" stroke-linejoin="round" stroke-linecap="round" stroke-dasharray="0.1 3.82"/>
<text x="77.50" y="487.20" font-size="9.2" text-anchor="start" fill="#333333" font-weight="normal" textLength="49.00" lengthAdjust="spacingAndGlyphs"  stroke="#333333" stroke-width="0.04">Altered RBC</text>
<line x1="348.60" y1="484.10" x2="370.80" y2="484.10" stroke="#24427e" stroke-width="2.1" stroke-linecap="round"/>
<text x="374.50" y="487.20" font-size="9.2" text-anchor="start" fill="#333333" font-weight="normal" textLength="49.10" lengthAdjust="spacingAndGlyphs"  stroke="#333333" stroke-width="0.04">Normal RBC</text>
<line x1="348.60" y1="497.90" x2="370.80" y2="497.90" stroke="#8e86c2" stroke-width="1.9" />
<text x="374.50" y="500.70" font-size="9.2" text-anchor="start" fill="#333333" font-weight="normal" textLength="96.20" lengthAdjust="spacingAndGlyphs"  stroke="#333333" stroke-width="0.04">Total RBC (Long-stored)</text>
<rect x="14.9" y="536.1" width="136.1" height="53.39999999999998" fill="#929292"/>
<circle cx="25.20" cy="548.00" r="6.0" fill="#dcdcdc" stroke="none" stroke-width="0"/>
<circle cx="25.20" cy="548.00" r="5.0" fill="#353535" stroke="none" stroke-width="0"/>
<circle cx="24.90" cy="548.30" r="2.6" fill="#505050" stroke="none" stroke-width="0"/>
<circle cx="55.00" cy="548.20" r="5.6" fill="#3a3a3a" stroke="none" stroke-width="0"/>
<circle cx="55.00" cy="548.20" r="4.1" fill="#7a7a7a" stroke="none" stroke-width="0"/>
<circle cx="55.00" cy="548.20" r="3.3" fill="none" stroke="#f0f0f0" stroke-width="1.5"/>
<circle cx="55.00" cy="548.20" r="1.5" fill="#111" stroke="none" stroke-width="0"/>
<polygon points="89.32,548.88 87.86,552.41 84.08,552.80 80.45,552.55 77.89,549.67 78.44,545.96 80.43,543.24 83.50,541.73 87.19,542.18 89.48,545.22" fill="#9a9a9a" stroke="#262626" stroke-width="1.2" stroke-linejoin="round"/>
<circle cx="81.30" cy="545.90" r="1.8" fill="#f4f4f4" stroke="none" stroke-width="0"/>
<circle cx="85.30" cy="544.90" r="1.6" fill="#1a1a1a" stroke="none" stroke-width="0"/>
<circle cx="86.30" cy="548.40" r="1.7" fill="#f0f0f0" stroke="none" stroke-width="0"/>
<circle cx="82.80" cy="549.60" r="1.5" fill="#222" stroke="none" stroke-width="0"/>
<circle cx="84.10" cy="547.40" r="1.2" fill="#e8e8e8" stroke="none" stroke-width="0"/>
<circle cx="80.60" cy="548.60" r="1.0" fill="#333" stroke="none" stroke-width="0"/>
<circle cx="110.30" cy="548.20" r="6.0" fill="#8a8a8a" stroke="#3a3a3a" stroke-width="1.2"/>
<circle cx="110.30" cy="548.20" r="4.6" fill="none" stroke="#a8a8a8" stroke-width="0.8"/>
<circle cx="111.10" cy="547.70" r="1.8" fill="#5a5a5a" stroke="none" stroke-width="0"/>
<circle cx="108.30" cy="549.40" r="1.2" fill="#3a3a3a" stroke="none" stroke-width="0"/>
<circle cx="109.80" cy="550.70" r="0.9" fill="#e0e0e0" stroke="none" stroke-width="0"/>
<circle cx="137.60" cy="546.90" r="6.0" fill="#262626" stroke="none" stroke-width="0"/>
<circle cx="137.60" cy="546.90" r="4.3" fill="#8a8a8a" stroke="none" stroke-width="0"/>
<circle cx="137.60" cy="546.90" r="3.3" fill="none" stroke="#f0f0f0" stroke-width="1.3"/>
<circle cx="137.60" cy="546.90" r="2.2" fill="#8c8c8c" stroke="none" stroke-width="0"/>
<polygon points="31.81,582.10 28.05,583.46 24.43,582.49 22.22,579.72 21.27,576.24 23.00,572.93 26.44,571.83 29.81,572.42 33.45,574.27 33.53,578.43" fill="#8a8a8a" stroke="#262626" stroke-width="1.2" stroke-linejoin="round"/>
<polygon points="31.81,582.10 28.05,583.46 24.43,582.49 22.22,579.72 21.27,576.24 23.00,572.93 26.44,571.83 29.81,572.42 33.45,574.27 33.53,578.43" fill="none" stroke="#e8e8e8" stroke-width="0.9" transform="translate(27.20,577.30) scale(0.7) translate(-27.20,-577.30)"/>
<circle cx="27.20" cy="577.30" r="1.5" fill="#777" stroke="none" stroke-width="0"/>
<circle cx="55.60" cy="576.20" r="6.0" fill="#8a8a8a" stroke="#3a3a3a" stroke-width="1.2"/>
<circle cx="55.60" cy="576.20" r="4.6" fill="none" stroke="#a8a8a8" stroke-width="0.8"/>
<circle cx="56.40" cy="575.70" r="1.8" fill="#5a5a5a" stroke="none" stroke-width="0"/>
<circle cx="53.60" cy="577.40" r="1.2" fill="#3a3a3a" stroke="none" stroke-width="0"/>
<circle cx="55.10" cy="578.70" r="0.9" fill="#e0e0e0" stroke="none" stroke-width="0"/>
<polygon points="87.57,580.89 84.46,582.97 81.00,582.28 78.30,580.45 76.50,577.32 78.60,574.41 80.72,571.57 84.44,571.59 87.09,574.02 87.94,577.28" fill="#555555" stroke="#262626" stroke-width="1.2" stroke-linejoin="round"/>
<circle cx="81.80" cy="577.80" r="3.0" fill="#1e1e1e" stroke="none" stroke-width="0"/>
<path d="M84.10,573.10 A4.3,4.3 0 0 1 84.10,581.50" fill="none" stroke="#f0f0f0" stroke-width="1.5"/>
<circle cx="114.20" cy="575.30" r="6.0" fill="#262626" stroke="none" stroke-width="0"/>
<circle cx="114.20" cy="575.30" r="4.3" fill="#8a8a8a" stroke="none" stroke-width="0"/>
<circle cx="114.20" cy="575.30" r="3.3" fill="none" stroke="#f0f0f0" stroke-width="1.3"/>
<circle cx="114.20" cy="575.30" r="2.2" fill="#8c8c8c" stroke="none" stroke-width="0"/>
<polygon points="142.15,578.05 138.84,579.74 134.29,580.21 132.33,576.07 130.31,571.60 133.85,568.21 137.80,565.28 140.59,570.07 144.35,571.18 143.98,574.98" fill="#4a4a4a" stroke="#262626" stroke-width="1.2" stroke-linejoin="round"/>
<circle cx="136.90" cy="572.60" r="1.6" fill="#111" stroke="none" stroke-width="0"/>
<circle cx="139.90" cy="574.60" r="1.4" fill="#1a1a1a" stroke="none" stroke-width="0"/>
<circle cx="140.20" cy="571.80" r="1.0" fill="#e8e8e8" stroke="none" stroke-width="0"/>
<circle cx="136.90" cy="575.60" r="0.9" fill="#d8d8d8" stroke="none" stroke-width="0"/>
<line x1="41.50" y1="536.10" x2="41.50" y2="589.50" stroke="#f2f2f2" stroke-width="1.6" />
<line x1="70.20" y1="536.10" x2="70.20" y2="589.50" stroke="#f2f2f2" stroke-width="1.6" />
<line x1="98.10" y1="536.10" x2="98.10" y2="589.50" stroke="#f2f2f2" stroke-width="1.6" />
<line x1="126.10" y1="536.10" x2="126.10" y2="589.50" stroke="#f2f2f2" stroke-width="1.6" />
<line x1="14.90" y1="562.80" x2="151.00" y2="562.80" stroke="#f2f2f2" stroke-width="1.6" />
<rect x="14.9" y="536.1" width="136.1" height="53.39999999999998" fill="none" stroke="#a50f30" stroke-width="2.4" stroke-dasharray="2.2 2.4"/>
<rect x="368.3" y="536.4" width="137.39999999999998" height="54.0" fill="#929292"/>
<circle cx="381.50" cy="548.50" r="7.40" fill="none" stroke="#b0b0b0" stroke-width="1"/>
<circle cx="381.50" cy="548.50" r="6.30" fill="#858585" stroke="#242424" stroke-width="1.7"/>
<path d="M381.50,553.20 A4.70,4.70 0 0 1 377.08,546.89" fill="none" stroke="#f0f0f0" stroke-width="1.6" stroke-linecap="round"/>
<circle cx="381.50" cy="547.00" r="2.20" fill="#5a5a5a"/>
<circle cx="412.40" cy="548.50" r="7.90" fill="none" stroke="#b0b0b0" stroke-width="1"/>
<circle cx="412.40" cy="548.50" r="6.80" fill="#6a6a6a" stroke="#242424" stroke-width="1.7"/>
<path d="M415.00,544.00 A5.20,5.20 0 0 1 414.18,553.39" fill="none" stroke="#f0f0f0" stroke-width="1.6" stroke-linecap="round"/>
<circle cx="411.40" cy="548.50" r="2.60" fill="#555"/>
<circle cx="438.60" cy="549.10" r="7.70" fill="none" stroke="#b0b0b0" stroke-width="1"/>
<circle cx="438.60" cy="549.10" r="6.60" fill="#7a7a7a" stroke="#242424" stroke-width="1.7"/>
<path d="M443.52,549.97 A5.00,5.00 0 0 1 435.39,552.93" fill="none" stroke="#f0f0f0" stroke-width="1.6" stroke-linecap="round"/>
<circle cx="437.60" cy="548.10" r="2.00" fill="#3a3a3a"/>
<circle cx="466.30" cy="549.10" r="7.90" fill="none" stroke="#b0b0b0" stroke-width="1"/>
<polygon points="466.30,542.30 472.77,547.00 470.30,554.60 462.30,554.60 459.83,547.00" fill="#808080" stroke="#242424" stroke-width="1.9" stroke-linejoin="round"/>
<circle cx="466.30" cy="549.10" r="5.20" fill="none" stroke="#eeeeee" stroke-width="1.5"/>
<circle cx="466.30" cy="549.10" r="2.60" fill="#7a7a7a"/>
<circle cx="493.90" cy="548.30" r="7.70" fill="none" stroke="#b0b0b0" stroke-width="1"/>
<polygon points="495.05,541.80 500.44,547.38 496.79,554.23 489.15,552.88 488.07,545.20" fill="#7a7a7a" stroke="#242424" stroke-width="1.9" stroke-linejoin="round"/>
<circle cx="493.90" cy="548.30" r="5.00" fill="none" stroke="#eeeeee" stroke-width="1.5"/>
<circle cx="493.90" cy="548.30" r="2.40" fill="#6a6a6a"/>
<circle cx="379.20" cy="574.80" r="7.50" fill="none" stroke="#b0b0b0" stroke-width="1"/>
<polygon points="378.09,568.50 384.85,571.80 383.80,579.25 376.39,580.55 372.86,573.91" fill="#858585" stroke="#242424" stroke-width="1.9" stroke-linejoin="round"/>
<circle cx="379.20" cy="574.80" r="4.80" fill="none" stroke="#eeeeee" stroke-width="1.5"/>
<circle cx="379.70" cy="575.30" r="2.60" fill="#7c7c7c"/>
<circle cx="407.60" cy="575.00" r="7.90" fill="none" stroke="#b0b0b0" stroke-width="1"/>
<circle cx="407.60" cy="575.00" r="6.80" fill="#7e7e7e" stroke="#242424" stroke-width="1.7"/>
<path d="M405.82,579.89 A5.20,5.20 0 0 1 405.82,570.11" fill="none" stroke="#f0f0f0" stroke-width="1.6" stroke-linecap="round"/>
<circle cx="408.60" cy="575.00" r="2.60" fill="#777"/>
<circle cx="433.50" cy="577.40" r="7.90" fill="none" stroke="#b0b0b0" stroke-width="1"/>
<polygon points="432.91,570.63 439.76,574.74 437.96,582.53 430.00,583.23 426.87,575.87" fill="#7e7e7e" stroke="#242424" stroke-width="1.9" stroke-linejoin="round"/>
<circle cx="433.50" cy="577.40" r="5.20" fill="none" stroke="#eeeeee" stroke-width="1.5"/>
<circle cx="433.50" cy="577.40" r="2.80" fill="#7a7a7a"/>
<circle cx="465.70" cy="577.40" r="7.70" fill="none" stroke="#b0b0b0" stroke-width="1"/>
<circle cx="465.70" cy="577.40" r="6.60" fill="#1e1e1e" stroke="#1a1a1a" stroke-width="2"/>
<circle cx="465.70" cy="577.40" r="5.00" fill="none" stroke="#eeeeee" stroke-width="1.5"/>
<circle cx="465.70" cy="577.40" r="2.20" fill="#1a1a1a"/>
<circle cx="495.50" cy="577.60" r="7.50" fill="none" stroke="#b0b0b0" stroke-width="1"/>
<circle cx="495.50" cy="577.60" r="6.40" fill="#6e6e6e" stroke="#3a3a3a" stroke-width="1.7"/>
<path d="M494.67,582.33 A4.80,4.80 0 0 1 490.99,575.96" fill="none" stroke="#f0f0f0" stroke-width="1.6" stroke-linecap="round"/>
<circle cx="496.50" cy="576.60" r="2.60" fill="#5e5e5e"/>
<line x1="396.50" y1="536.40" x2="396.50" y2="563.40" stroke="#f2f2f2" stroke-width="1.6" />
<line x1="426.50" y1="536.40" x2="426.50" y2="563.40" stroke="#f2f2f2" stroke-width="1.6" />
<line x1="452.30" y1="536.40" x2="452.30" y2="563.40" stroke="#f2f2f2" stroke-width="1.6" />
<line x1="479.20" y1="536.40" x2="479.20" y2="563.40" stroke="#f2f2f2" stroke-width="1.6" />
<line x1="391.80" y1="563.40" x2="391.80" y2="590.40" stroke="#f2f2f2" stroke-width="1.6" />
<line x1="422.30" y1="563.40" x2="422.30" y2="590.40" stroke="#f2f2f2" stroke-width="1.6" />
<line x1="447.90" y1="563.40" x2="447.90" y2="590.40" stroke="#f2f2f2" stroke-width="1.6" />
<line x1="480.10" y1="563.40" x2="480.10" y2="590.40" stroke="#f2f2f2" stroke-width="1.6" />
<line x1="368.30" y1="563.40" x2="505.70" y2="563.40" stroke="#f2f2f2" stroke-width="1.6" />
<rect x="368.3" y="536.4" width="137.39999999999998" height="54.0" fill="none" stroke="#24427e" stroke-width="2"/>
<line x1="64.20" y1="670.00" x2="64.20" y2="797.50" stroke="#111111" stroke-width="2" />
<line x1="58.00" y1="796.50" x2="245.80" y2="796.50" stroke="#111111" stroke-width="2" />
<line x1="58.00" y1="796.50" x2="64.20" y2="796.50" stroke="#111111" stroke-width="2" />
<text x="52.10" y="799.75" font-size="9.3" text-anchor="end" fill="#333333" font-weight="normal"  stroke="#333333" stroke-width="0.04">0</text>
<line x1="58.00" y1="756.50" x2="64.20" y2="756.50" stroke="#111111" stroke-width="2" />
<text x="52.10" y="759.75" font-size="9.3" text-anchor="end" fill="#333333" font-weight="normal"  stroke="#333333" stroke-width="0.04">20</text>
<line x1="58.00" y1="716.50" x2="64.20" y2="716.50" stroke="#111111" stroke-width="2" />
<text x="52.10" y="719.75" font-size="9.3" text-anchor="end" fill="#333333" font-weight="normal"  stroke="#333333" stroke-width="0.04">40</text>
<line x1="58.00" y1="676.50" x2="64.20" y2="676.50" stroke="#111111" stroke-width="2" />
<text x="52.10" y="679.75" font-size="9.3" text-anchor="end" fill="#333333" font-weight="normal"  stroke="#333333" stroke-width="0.04">60</text>
<line x1="109.60" y1="796.50" x2="109.60" y2="802.50" stroke="#111111" stroke-width="2" />
<line x1="200.30" y1="796.50" x2="200.30" y2="802.50" stroke="#111111" stroke-width="2" />
<text x="109.60" y="817.00" font-size="8.9" text-anchor="middle" fill="#333333" font-weight="normal" textLength="49.00" lengthAdjust="spacingAndGlyphs"  stroke="#333333" stroke-width="0.04">Short-stored</text>
<text x="109.60" y="827.40" font-size="8.9" text-anchor="middle" fill="#333333" font-weight="normal"  stroke="#333333" stroke-width="0.04">RBC</text>
<text x="200.50" y="817.00" font-size="8.9" text-anchor="middle" fill="#333333" font-weight="normal" textLength="48.00" lengthAdjust="spacingAndGlyphs"  stroke="#333333" stroke-width="0.04">Long-stored</text>
<text x="200.50" y="827.40" font-size="8.9" text-anchor="middle" fill="#333333" font-weight="normal"  stroke="#333333" stroke-width="0.04">RBC</text>
<text x="32.00" y="752.60" font-size="14.2" text-anchor="start" fill="#333333" font-weight="normal" textLength="38.40" lengthAdjust="spacingAndGlyphs" transform="rotate(-90 32.00 752.60)"  stroke="#333333" stroke-width="0.12">SME (%)</text>
<line x1="112.10" y1="689.00" x2="195.80" y2="689.00" stroke="#111111" stroke-width="1.8" />
<polygon points="149.85,682.50 150.44,683.59 151.66,683.81 150.80,684.71 150.97,685.94 149.85,685.40 148.73,685.94 148.90,684.71 148.04,683.81 149.26,683.59" fill="#333333"/>
<polygon points="153.90,682.50 154.49,683.59 155.71,683.81 154.85,684.71 155.02,685.94 153.90,685.40 152.78,685.94 152.95,684.71 152.09,683.81 153.31,683.59" fill="#333333"/>
<polygon points="157.95,682.50 158.54,683.59 159.76,683.81 158.90,684.71 159.07,685.94 157.95,685.40 156.83,685.94 157.00,684.71 156.14,683.81 157.36,683.59" fill="#333333"/>
<circle cx="109.70" cy="754.00" r="2.3" fill="#a50f30"/>
<circle cx="109.70" cy="759.50" r="2.3" fill="#a50f30"/>
<circle cx="109.70" cy="766.10" r="2.3" fill="#a50f30"/>
<circle cx="99.90" cy="769.60" r="2.3" fill="#a50f30"/>
<circle cx="119.40" cy="768.10" r="2.3" fill="#a50f30"/>
<circle cx="104.90" cy="774.90" r="2.3" fill="#a50f30"/>
<circle cx="95.20" cy="779.70" r="2.3" fill="#a50f30"/>
<circle cx="114.40" cy="777.60" r="2.3" fill="#a50f30"/>
<circle cx="124.40" cy="776.40" r="2.3" fill="#a50f30"/>
<line x1="79.70" y1="769.60" x2="139.90" y2="769.60" stroke="#111111" stroke-width="2.2" />
<circle cx="195.70" cy="711.10" r="2.3" fill="#837abb"/>
<circle cx="195.70" cy="717.20" r="2.3" fill="#837abb"/>
<circle cx="205.40" cy="715.10" r="2.3" fill="#837abb"/>
<circle cx="185.80" cy="725.80" r="2.3" fill="#837abb"/>
<circle cx="195.70" cy="727.20" r="2.3" fill="#837abb"/>
<circle cx="205.40" cy="723.80" r="2.3" fill="#837abb"/>
<circle cx="214.90" cy="723.50" r="2.3" fill="#837abb"/>
<circle cx="200.30" cy="732.30" r="2.3" fill="#837abb"/>
<circle cx="200.30" cy="740.80" r="2.3" fill="#837abb"/>
<line x1="170.50" y1="724.20" x2="230.50" y2="724.20" stroke="#111111" stroke-width="2.2" />
</svg>
</body></html>
